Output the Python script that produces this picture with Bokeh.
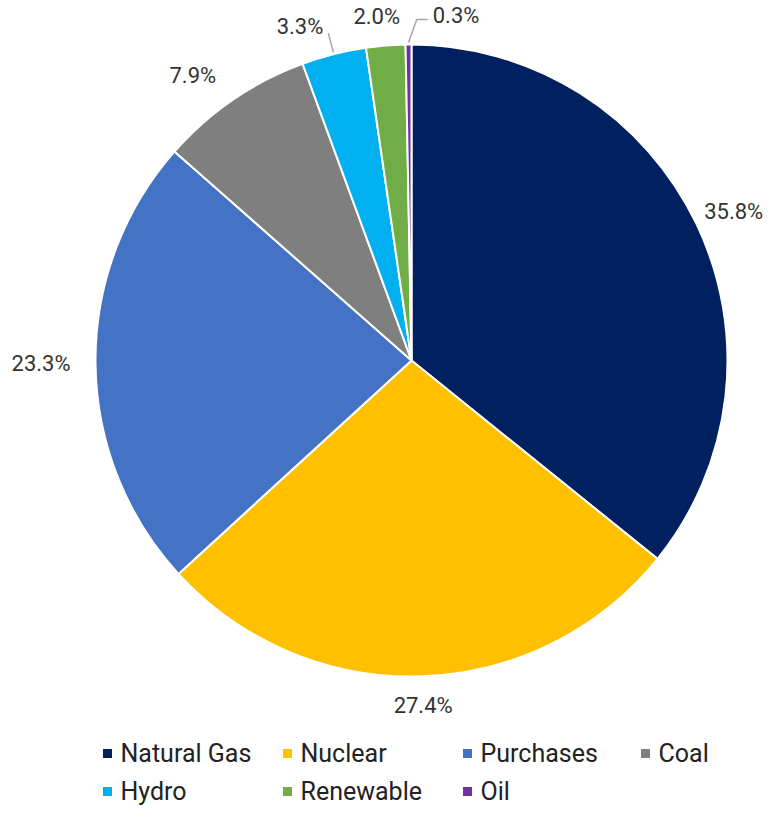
import numpy as np
from bokeh.plotting import figure
from bokeh.models import ColumnDataSource, Range1d
from bokeh.core.properties import value
from bokeh.embed import file_html
from bokeh.resources import INLINE

# ---------------- data ----------------
categories = ["Natural Gas", "Nuclear", "Purchases", "Coal", "Hydro", "Renewable", "Oil"]
shares = [35.8, 27.4, 23.3, 7.9, 3.3, 2.0, 0.3]
colors = ["#002060", "#FFC000", "#4472C4", "#7F7F7F", "#00B0F0", "#70AD47", "#7030A0"]

# ---------------- layout (picture px) ----------------
W, H = 766, 808
def fx(sx):
    return sx
def fy(sy):
    return H - sy

CX, CY, R = fx(411), fy(360), 316
LABEL_FONT = 22
LEGEND_FONT = 25
FONT = "Roboto"
label_nudge = {0: (-12, 0), 3: (-13, 0), 4: (-22, 0), 5: (-5, 0), 6: (48, 0)}  # px
legend_cols_x = [107, 287, 467, 645]
legend_rows_y = [753, 791]

p = figure(width=W, height=H, output_backend="svg", toolbar_location=None,
           x_range=Range1d(0, W), y_range=Range1d(0, H), min_border=0,
           tools="")
p.axis.visible = False
p.grid.visible = False
p.outline_line_color = None
p.background_fill_color = "white"
p.border_fill_color = "white"

frac = np.array(shares) / np.sum(shares)
cum_end = np.cumsum(frac)
cum_start = cum_end - frac
start_angle = np.pi / 2 - 2 * np.pi * cum_start
end_angle = np.pi / 2 - 2 * np.pi * cum_end

src = ColumnDataSource(dict(cat=categories, val=shares, color=colors,
                            sa=start_angle, ea=end_angle))
p.wedge(x=CX, y=CY, radius=R, start_angle="sa", end_angle="ea", direction="clock",
        fill_color="color", line_color="white", line_width=2, source=src)

# ---------------- data labels ----------------
labels = [f"{v:.1f}%" for v in shares]
theta = 2 * np.pi * (cum_start + frac / 2)
lx, ly = [], []
lead_xs, lead_ys = [], []
for i, (t, lab) in enumerate(zip(theta, labels)):
    dx, dy = np.sin(t), np.cos(t)
    ndig = sum(c.isdigit() for c in lab)
    tw = LABEL_FONT * (0.5615 * ndig + 0.263 + 0.732)
    bw, bh = tw + 12, LABEL_FONT * 0.72 + 4
    r = R + 19
    x = CX + dx * r + dx * bw / 2
    y = CY + dy * r + dy * bh / 2
    nx, ny = label_nudge.get(i, (0, 0))
    x += nx
    y -= ny
    lx.append(x)
    ly.append(y)
    if abs(nx) > 15 and i >= 4:
        sx0 = CX + dx * (R + 2)
        sy0 = CY + dy * (R + 2)
        if nx < 0:
            xs = [sx0, x + tw / 2 + 5]
            ys = [sy0, y - 7]
        else:
            left = x - tw / 2
            xs = [sx0, left - 16, left - 5]
            ys = [sy0, y - 4, y - 4]
        lead_xs.append(xs)
        lead_ys.append(ys)

p.multi_line(xs=lead_xs, ys=lead_ys, line_color="#A6A6A6", line_width=1.5)
p.text(x=lx, y=ly, text=labels, text_align="center", text_baseline="middle",
       text_font=value(FONT), text_font_size=f"{LABEL_FONT}px", text_color="#333333")

# ---------------- legend ----------------
ncol = 4
lgx, lgy = [], []
for i, c in enumerate(categories):
    lgx.append(fx(legend_cols_x[i % ncol]))
    lgy.append(fy(legend_rows_y[i // ncol]))
lsrc = ColumnDataSource(dict(x=lgx, y=lgy, tx=[v + 13 for v in lgx], cat=categories, color=colors))
p.rect(x="x", y="y", width=9, height=9, fill_color="color", line_color=None, source=lsrc)
p.text(x="tx", y="y", text="cat", text_align="left", text_baseline="middle",
       text_font=value(FONT), text_font_size=f"{LEGEND_FONT}px", text_color="#222222", source=lsrc)

open("out.html", "w").write(file_html(p, INLINE))
